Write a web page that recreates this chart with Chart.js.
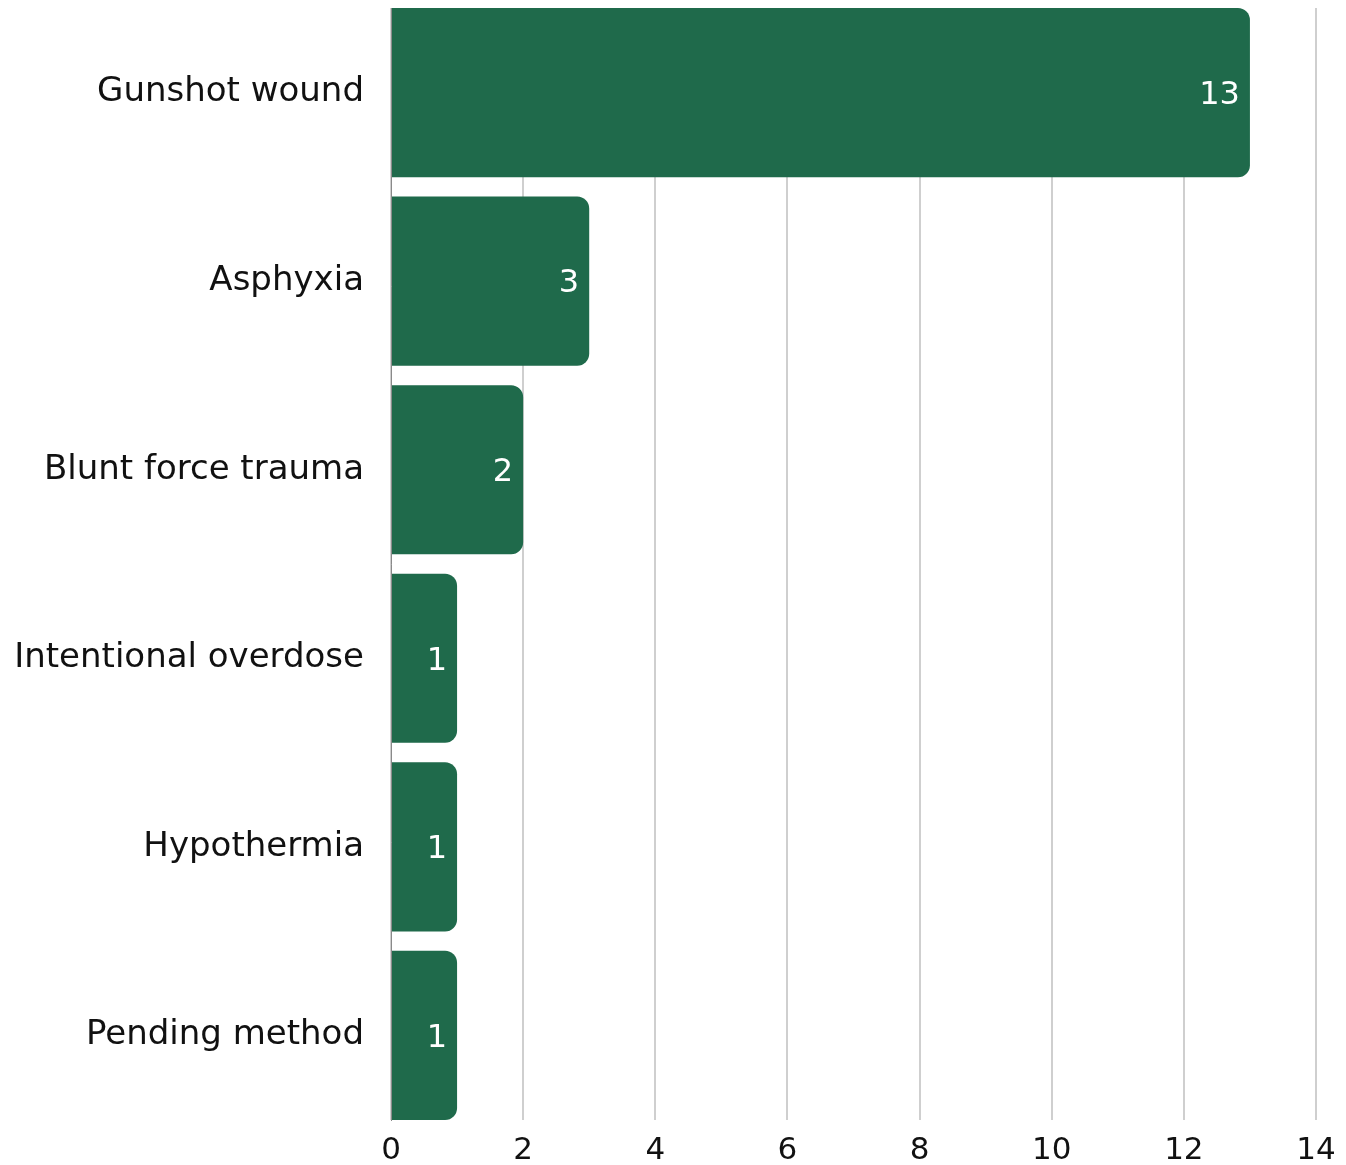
<!DOCTYPE html>
<html>
<head>
<meta charset="utf-8">
<script src="https://cdn.jsdelivr.net/npm/chart.js@4/dist/chart.umd.min.js"></script>
<style>
  html, body { margin: 0; padding: 0; background: #ffffff; }
  #wrap { width: 1346px; height: 1165px; }
</style>
</head>
<body>
<div id="wrap"><canvas id="chart"></canvas></div>
<script>
// Causes of death and their counts
const causes = ['Gunshot wound', 'Asphyxia', 'Blunt force trauma', 'Intentional overdose', 'Hypothermia', 'Pending method'];
const counts = [13, 3, 2, 1, 1, 1];
const xTicks = [0, 2, 4, 6, 8, 10, 12, 14];

const FONT = '"DejaVu Sans", sans-serif';
const BAR = '#1f6a4b';

// Writes each bar's value just inside its end
const valueLabels = {
  id: 'valueLabels',
  afterDatasetsDraw(chart) {
    const ctx = chart.ctx;
    const meta = chart.getDatasetMeta(0);
    ctx.save();
    ctx.fillStyle = '#ffffff';
    ctx.font = '32px ' + FONT;
    ctx.textAlign = 'right';
    ctx.textBaseline = 'middle';
    meta.data.forEach((bar, i) => {
      ctx.fillText(String(counts[i]), bar.x - 10, bar.y + 3);
    });
    ctx.restore();
  }
};

// Bars sit on a numeric index axis so the first and last bars touch the plot edges
const halfBar = 0.4485;

new Chart(document.getElementById('chart'), {
  type: 'bar',
  data: {
    datasets: [{
      data: counts.map((v, i) => ({ x: v, y: i })),
      backgroundColor: BAR,
      borderRadius: 12,
      borderSkipped: 'start',
      barPercentage: 0.897,
      categoryPercentage: 1
    }]
  },
  options: {
    indexAxis: 'y',
    responsive: true,
    maintainAspectRatio: false,
    animation: false,
    layout: { padding: { top: 8, right: 30, bottom: 0, left: 0 } },
    plugins: { legend: { display: false }, tooltip: { enabled: false } },
    scales: {
      x: {
        type: 'linear',
        min: 0,
        max: 14,
        afterBuildTicks(scale) { scale.ticks = xTicks.map(v => ({ value: v })); },
        afterFit(scale) {
          scale.height = 45;
          scale.paddingLeft = 0;
          scale.paddingRight = 0;
        },
        grid: { color: '#cfcfcf', lineWidth: 2, drawTicks: false },
        border: { display: false },
        ticks: { color: '#111111', padding: 12, font: { family: FONT, size: 31 } }
      },
      y: {
        type: 'linear',
        reverse: true,
        offset: false,
        min: -halfBar,
        max: causes.length - 1 + halfBar,
        afterBuildTicks(scale) { scale.ticks = causes.map((c, i) => ({ value: i })); },
        afterFit(scale) {
          scale.width = 391;
          scale.paddingTop = 0;
          scale.paddingBottom = 0;
        },
        grid: { display: false, drawTicks: false, offset: false },
        border: { display: true, color: '#8a8a8a', width: 1 },
        ticks: {
          color: '#111111',
          padding: 27,
          font: { family: FONT, size: 34 },
          callback: (v) => causes[v]
        }
      }
    }
  },
  plugins: [valueLabels]
});
</script>
</body>
</html>
